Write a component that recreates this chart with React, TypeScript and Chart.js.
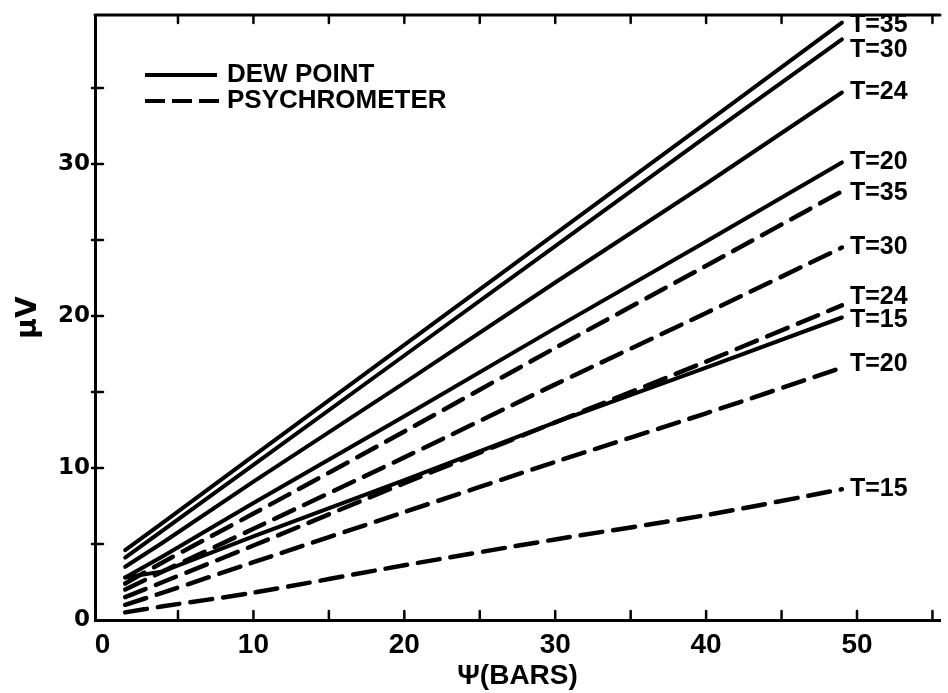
import React, { useEffect, useRef } from 'react';
import { Chart, registerables } from 'chart.js';

Chart.register(...registerables);

// ---- data ----
const psi = [1.5, 4, 10, 20, 30, 40, 49];

const dewT35 = [4.6, 6.4, 10.8, 18.1, 25.4, 32.7, 39.3];
const dewT30 = [4.1, 5.9, 10.2, 17.4, 24.6, 31.8, 38.2];
const dewT24 = [3.5, 5.1, 9.1, 15.6, 22.2, 28.7, 34.7];
const dewT20 = [2.8, 4.2, 7.7, 13.4, 19.2, 24.9, 30.1];
const dewT15 = [2.8, 3.2, 5.5, 9.2, 13.0, 16.6, 19.9];

const psyT35 = [2.4, 3.8, 7.0, 12.4, 17.9, 23.3, 28.2];
const psyT30 = [2.0, 3.2, 6.0, 10.7, 15.5, 20.2, 24.5];
const psyT24 = [1.5, 2.5, 4.9, 9.0, 13.0, 17.0, 20.7];
const psyT20 = [1.0, 1.8, 3.8, 7.1, 10.4, 13.6, 16.6];
const psyT15 = [0.5, 0.9, 1.8, 3.6, 5.3, 6.9, 8.6];

const seriesNames = ['T=35', 'T=30', 'T=24', 'T=20', 'T=15'];
const dewSeries = [dewT35, dewT30, dewT24, dewT20, dewT15];
const psySeries = [psyT35, psyT30, psyT24, psyT20, psyT15];

const legendLabels = ['DEW POINT', 'PSYCHROMETER'];
const xLabelTicks = [0, 10, 20, 30, 40, 50];
const yLabelTicks = [0, 10, 20, 30];
const xTitle = 'Ψ(BARS)';
const yTitle = 'μV';

// ---- styles (pixel nudges for curve-end labels, not data) ----
const dewLabelNudge = [3, 11, 0, 0, 3];
const psyLabelNudge = [2, 0, -8, -4, 0];
const DASH = [22, 11];
const INK = '#000';

const toPoints = (ys: number[]) => ys.map((y, i) => ({ x: psi[i], y }));

const decorPlugin = {
  id: 'decor',
  afterDatasetsDraw(chart: any) {
    const { ctx, chartArea, scales } = chart;
    const xs = scales.x;
    const ys = scales.y;
    ctx.save();
    ctx.strokeStyle = INK;
    ctx.fillStyle = INK;
    ctx.lineCap = 'round';

    // top border
    ctx.lineWidth = 3;
    ctx.beginPath();
    ctx.moveTo(chartArea.left, chartArea.top);
    ctx.lineTo(chartArea.right, chartArea.top);
    ctx.stroke();

    // inward ticks every 5
    ctx.lineWidth = 2.5;
    for (let v = 5; v <= 55; v += 5) {
      const px = xs.getPixelForValue(v);
      ctx.beginPath();
      ctx.moveTo(px, chartArea.bottom);
      ctx.lineTo(px, chartArea.bottom - 9);
      ctx.stroke();
      ctx.beginPath();
      ctx.moveTo(px, chartArea.top);
      ctx.lineTo(px, chartArea.top + 8);
      ctx.stroke();
    }
    for (let v = 5; v <= 35; v += 5) {
      const py = ys.getPixelForValue(v);
      ctx.beginPath();
      ctx.moveTo(chartArea.left - 3, py);
      ctx.lineTo(chartArea.left + 8, py);
      ctx.stroke();
    }

    // curve-end labels
    ctx.font = 'bold 25px "Liberation Sans", Arial, sans-serif';
    ctx.textAlign = 'left';
    ctx.textBaseline = 'middle';
    const drawLabels = (series: number[][], nudges: number[]) => {
      series.forEach((s, i) => {
        const last = s.length - 1;
        const px = xs.getPixelForValue(psi[last]);
        const py = ys.getPixelForValue(s[last]);
        ctx.fillText(seriesNames[i], px + 8, py + nudges[i]);
      });
    };
    drawLabels(dewSeries, dewLabelNudge);
    drawLabels(psySeries, psyLabelNudge);

    // legend
    const lx0 = chartArea.left + 50;
    const lx1 = chartArea.left + 122;
    const ly0 = chartArea.top + 60;
    const ly1 = chartArea.top + 86;
    ctx.lineWidth = 4;
    ctx.lineCap = 'butt';
    ctx.beginPath();
    ctx.moveTo(lx0, ly0);
    ctx.lineTo(lx1, ly0);
    ctx.stroke();
    ctx.setLineDash([20, 7]);
    ctx.beginPath();
    ctx.moveTo(lx0, ly1);
    ctx.lineTo(lx1 + 4, ly1);
    ctx.stroke();
    ctx.setLineDash([]);
    ctx.font = 'bold 26px "Liberation Sans", Arial, sans-serif';
    ctx.fillText(legendLabels[0], lx1 + 10, ly0);
    ctx.fillText(legendLabels[1], lx1 + 10, ly1);
    ctx.restore();
  },
};

export default function App() {
  const ref = useRef<HTMLCanvasElement | null>(null);

  useEffect(() => {
    if (!ref.current) return;
    const datasets: any[] = [];
    dewSeries.forEach((s, i) => {
      datasets.push({
        label: 'DEW POINT ' + seriesNames[i],
        data: toPoints(s),
        borderColor: INK,
        borderWidth: 4,
        pointRadius: 0,
        tension: 0,
        fill: false,
        borderCapStyle: 'round',
      });
    });
    psySeries.forEach((s, i) => {
      datasets.push({
        label: 'PSYCHROMETER ' + seriesNames[i],
        data: toPoints(s),
        borderColor: INK,
        borderWidth: 4.5,
        borderDash: DASH,
        pointRadius: 0,
        tension: 0.3,
        fill: false,
        borderCapStyle: 'round',
      });
    });

    const chart = new Chart(ref.current, {
      type: 'line',
      data: { datasets },
      options: {
        animation: false,
        responsive: false,
        maintainAspectRatio: false,
        layout: { padding: { top: 15, right: 8, left: 0, bottom: 0 } },
        plugins: {
          legend: { display: false },
          tooltip: { enabled: false },
        },
        scales: {
          x: {
            type: 'linear',
            min: -0.5,
            max: 55.5,
            afterFit: (s: any) => { s.height = 73; },
            afterBuildTicks: (s: any) => { s.ticks = xLabelTicks.map((v) => ({ value: v })); },
            grid: { display: false },
            border: { display: true, color: INK, width: 3 },
            ticks: {
              color: INK,
              padding: 0,
              maxRotation: 0,
              font: { family: '"Liberation Sans", Arial, sans-serif', size: 28, weight: 'bold' },
            },
            title: {
              display: true,
              text: xTitle,
              color: INK,
              padding: { top: 0, bottom: 0 },
              font: { family: '"Liberation Sans", Arial, sans-serif', size: 28, weight: 'bold' },
            },
          },
          y: {
            type: 'linear',
            min: 0,
            max: 39.8,
            afterFit: (s: any) => { s.width = 95; },
            afterBuildTicks: (s: any) => { s.ticks = yLabelTicks.map((v) => ({ value: v })); },
            grid: { display: false },
            border: { display: true, color: INK, width: 3 },
            ticks: {
              color: INK,
              padding: -3,
              font: { family: '"DejaVu Sans", sans-serif', size: 23, weight: 'bold' },
            },
            title: {
              display: true,
              text: yTitle,
              color: INK,
              padding: { top: 12, bottom: 0 },
              font: { family: '"DejaVu Sans", sans-serif', size: 28, weight: 'bold' },
            },
          },
        },
      },
      plugins: [decorPlugin],
    });
    return () => chart.destroy();
  }, []);

  return (
    <div style={{ position: 'fixed', left: 0, top: 0, width: 948, height: 693, background: '#fff' }}>
      <canvas ref={ref} width={948} height={693} style={{ display: 'block' }} />
    </div>
  );
}
